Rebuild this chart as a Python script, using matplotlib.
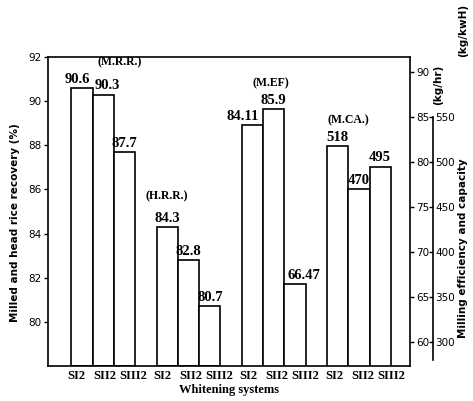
import numpy as np
import matplotlib
matplotlib.use('Agg')
import matplotlib.pyplot as plt

# data
systems = ['SI2', 'SII2', 'SIII2']
group_names = ['(M.R.R.)', '(H.R.R.)', '(M.EF)', '(M.CA.)']
mrr = [90.6, 90.3, 87.7]      # milled rice recovery (%)
hrr = [84.3, 82.8, 80.7]      # head rice recovery (%)
mef = [84.11, 85.9, 66.47]    # milling efficiency (kg/kwH)
mca = [518, 470, 495]         # milling capacity (kg/hr)

serif = 'Liberation Serif'
sans = 'DejaVu Sans'
W, H = 473, 401

fig = plt.figure(figsize=(W / 100, H / 100), dpi=100)
L, R, T, B = 48, 410, 57, 366
ax = fig.add_axes([L / W, 1 - B / H, (R - L) / W, (B - T) / H])
ax1 = ax.twinx()
ax2 = ax.twinx()

ax.set_ylim(78, 92)
ax1.set_ylim(57.33, 91.67)
ax2.set_ylim(273.3, 616.7)

# 4 groups of 3 bars, one empty slot between groups
slots = [np.arange(3) + 4 * g + 0.5 for g in range(4)]
data = [(ax, mrr), (ax, hrr), (ax1, mef), (ax2, mca)]

val_dx = {90.6: -5, 90.3: 4, 84.11: -10, 66.47: 9}   # label nudges in px
grp_anchor = [(1, 16, 32), (0, 0, 31), (1, -3, 26), (0, 11, 26)]

for g, (a, vals) in enumerate(data):
    base = a.get_ylim()[0]
    x = slots[g]
    a.bar(x, np.array(vals) - base, bottom=base, width=1.0,
          color='white', edgecolor='black', linewidth=1.2, zorder=2)
    for xi, v in zip(x, vals):
        a.annotate(f'{v:g}', (xi, v), xytext=(val_dx.get(v, 0) * 0.72, 1.5),
                   textcoords='offset points', ha='center', va='bottom',
                   fontsize=10.5, fontweight='bold', family=serif)
    i, dx, dy = grp_anchor[g]
    a.annotate(group_names[g], (x[i], vals[i]), xytext=(dx * 0.72, dy * 0.72),
               textcoords='offset points', ha='center', va='center',
               fontsize=8.5, fontweight='bold', family=serif)

ax.set_xlim(-1.1, 15.9)
# the system names are spread evenly under the axis, not centred on the bars
ax.set_xticks(np.linspace(0.22, 15.04, 12))
ax.set_xticklabels(systems * 4, fontsize=9, fontweight='bold', family=serif)
ax.tick_params(axis='x', length=0, pad=3)
ax.set_yticks(np.arange(80, 93, 2))
ax.tick_params(axis='y', length=3, width=1, pad=1.5, labelsize=7.5)
ax.spines['right'].set_visible(False)
for s in ['left', 'top', 'bottom']:
    ax.spines[s].set_linewidth(1.2)

ax1.set_yticks(np.arange(60, 91, 5))
ax1.tick_params(axis='y', length=3, width=1, pad=1.5, labelsize=7.5)
ax1.spines['right'].set_linewidth(1.2)
for s in ['left', 'top', 'bottom']:
    ax1.spines[s].set_visible(False)

ax2.set_yticks(np.arange(300, 551, 50))
ax2.tick_params(axis='y', direction='in', length=3, width=1, pad=1.5, labelsize=7.5)
ax2.spines['right'].set_position(('outward', 16.5))
ax2.spines['right'].set_bounds(280, 550)
ax2.spines['right'].set_linewidth(1.2)
for s in ['left', 'top', 'bottom']:
    ax2.spines[s].set_visible(False)

ax.set_xlabel('Whitening systems', fontsize=9, fontweight='bold', family=serif, labelpad=1)

fig.text(15 / W, 1 - 223 / H, 'Milled and head rice recovery (%)', rotation=90,
         ha='center', va='center', fontsize=7.5, fontweight='bold', family=sans)
fig.text(463 / W, 1 - 248 / H, 'Milling efficiency and capacity', rotation=90,
         ha='center', va='center', fontsize=7.5, fontweight='bold', family=sans)
fig.text(463 / W, 1 - 30 / H, '(kg/kwH)', rotation=90,
         ha='center', va='center', fontsize=7.5, fontweight='bold', family=sans)
fig.text(438 / W, 1 - 85 / H, '(kg/hr)', rotation=90,
         ha='center', va='center', fontsize=7.5, fontweight='bold', family=sans)

fig.savefig('out.png', dpi=100)
